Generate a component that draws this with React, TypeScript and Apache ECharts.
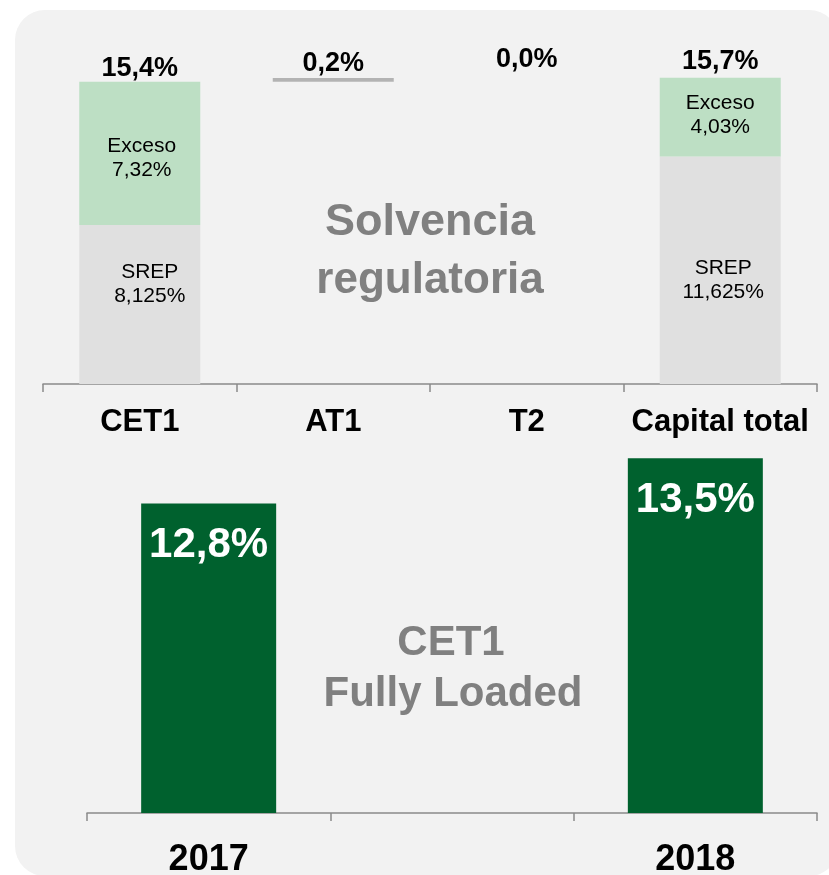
import React, { useEffect, useRef } from "react";
import * as echarts from "echarts";

// ---- Data: Solvencia regulatoria (waterfall) ----
const capCategories = ["CET1", "AT1", "T2", "Capital total"];
const srepValues = [8.125, 0, 0, 11.625];
const excesoValues = [7.32, 0, 0, 4.03];
const stepValues = [0, 0.2, 0, 0]; // AT1, T2 increments

// ---- Data: CET1 Fully Loaded ----
const yearCategories = ["2017", "", "2018"];
const cet1FlValues = [12.8, null, 13.5];

const FONT = "'Liberation Sans', Arial, Helvetica, sans-serif";

const fmt = (v: number, d?: number) =>
  (d === undefined ? String(v) : v.toFixed(d)).replace(".", ",") + "%";

export default function App() {
  const ref = useRef<HTMLDivElement>(null);

  useEffect(() => {
    if (!ref.current) return;
    const chart = echarts.init(ref.current, undefined, { renderer: "svg" });

    // waterfall helpers derived from the data
    const cet1Total = srepValues[0] + excesoValues[0];
    const base: number[] = [0, cet1Total, cet1Total + stepValues[1], 0];
    const totalsText = [
      fmt(srepValues[0] + excesoValues[0], 1),
      fmt(stepValues[1], 1),
      fmt(stepValues[2], 1),
      fmt(srepValues[3] + excesoValues[3], 1),
    ];
    const totalDist = [1, 2, 6, 4];
    const srepOffsets = [[10, -22], [0, 0], [0, 0], [3, 8]];
    const excesoOffsets = [[2, 3], [0, 0], [0, 0], [0, -4]];

    const option: any = {
      animation: false,
      backgroundColor: "transparent",
      textStyle: { fontFamily: FONT },
      graphic: [
        {
          type: "rect",
          z: -10,
          silent: true,
          shape: { x: 15, y: 10, width: 824, height: 866, r: 30 },
          style: { fill: "#f2f2f2" },
        },
        {
          type: "text",
          x: 430,
          y: 219,
          style: {
            text: "Solvencia",
            fill: "#808080",
            font: `bold 45px ${FONT}`,
            align: "center",
            verticalAlign: "middle",
          },
        },
        {
          type: "text",
          x: 430,
          y: 277,
          style: {
            text: "regulatoria",
            fill: "#808080",
            font: `bold 44px ${FONT}`,
            align: "center",
            verticalAlign: "middle",
          },
        },
        {
          type: "text",
          x: 451,
          y: 640,
          style: {
            text: "CET1",
            fill: "#808080",
            font: `bold 42px ${FONT}`,
            align: "center",
            verticalAlign: "middle",
          },
        },
        {
          type: "text",
          x: 453,
          y: 691,
          style: {
            text: "Fully Loaded",
            fill: "#808080",
            font: `bold 42px ${FONT}`,
            align: "center",
            verticalAlign: "middle",
          },
        },
      ],
      grid: [
        { left: 43, right: 12, top: 71, height: 313 },
        { left: 87, right: 12, top: 426, height: 391 },
      ],
      xAxis: [
        {
          gridIndex: 0,
          type: "category",
          data: capCategories,
          axisLine: { lineStyle: { color: "#8a8a8a", width: 1.5 } },
          axisTick: { show: true, length: 8, lineStyle: { color: "#8a8a8a", width: 1.5 } },
          axisLabel: {
            interval: 0,
            margin: 21,
            color: "#000",
            fontWeight: "bold",
            fontSize: 31,
            fontFamily: FONT,
          },
        },
        {
          gridIndex: 1,
          type: "category",
          data: yearCategories,
          axisLine: { lineStyle: { color: "#8a8a8a", width: 1.5 } },
          axisTick: { show: true, length: 8, lineStyle: { color: "#8a8a8a", width: 1.5 } },
          axisLabel: {
            interval: 0,
            margin: 26,
            color: "#000",
            fontWeight: "bold",
            fontSize: 36,
            fontFamily: FONT,
          },
        },
      ],
      yAxis: [
        { gridIndex: 0, type: "value", min: 0, max: 16, show: false, splitLine: { show: false } },
        { gridIndex: 1, type: "value", min: 8, max: 14, show: false, splitLine: { show: false } },
      ],
      series: [
        {
          name: "base",
          type: "bar",
          stack: "w",
          xAxisIndex: 0,
          yAxisIndex: 0,
          barWidth: 121,
          itemStyle: { color: "transparent" },
          silent: true,
          data: base,
        },
        {
          name: "SREP",
          type: "bar",
          stack: "w",
          xAxisIndex: 0,
          yAxisIndex: 0,
          barWidth: 121,
          itemStyle: { color: "#e0e0e0" },
          data: srepValues.map((v, i) => ({
            value: v,
            label: {
              show: v > 0,
              position: "inside",
              offset: srepOffsets[i],
              formatter: () => "SREP\n" + fmt(v),
              color: "#000",
              fontSize: 21,
              lineHeight: 24,
              fontFamily: FONT,
            },
          })),
        },
        {
          name: "Exceso",
          type: "bar",
          stack: "w",
          xAxisIndex: 0,
          yAxisIndex: 0,
          barWidth: 121,
          itemStyle: { color: "#bddfc4" },
          data: excesoValues.map((v, i) => ({
            value: v,
            label: {
              show: v > 0,
              position: "inside",
              offset: excesoOffsets[i],
              formatter: () => "Exceso\n" + fmt(v),
              color: "#000",
              fontSize: 21,
              lineHeight: 24,
              fontFamily: FONT,
            },
          })),
        },
        {
          name: "step",
          type: "bar",
          stack: "w",
          xAxisIndex: 0,
          yAxisIndex: 0,
          barWidth: 121,
          itemStyle: { color: "#b3b3b3" },
          data: stepValues,
        },
        {
          name: "totals",
          type: "bar",
          stack: "w",
          xAxisIndex: 0,
          yAxisIndex: 0,
          barWidth: 121,
          itemStyle: { color: "transparent" },
          data: capCategories.map((_, i) => ({
            value: 0,
            label: {
              show: true,
              position: "top",
              distance: totalDist[i],
              formatter: () => totalsText[i],
              color: "#000",
              fontWeight: "bold",
              fontSize: 27,
              fontFamily: FONT,
            },
          })),
        },
        {
          name: "CET1 Fully Loaded",
          type: "bar",
          xAxisIndex: 1,
          yAxisIndex: 1,
          barWidth: 135,
          itemStyle: { color: "#00612e" },
          label: {
            show: true,
            position: "insideTop",
            distance: 18,
            formatter: (p: any) => fmt(p.value, 1),
            color: "#fff",
            fontWeight: "bold",
            fontSize: 42,
            fontFamily: FONT,
          },
          data: cet1FlValues,
        },
      ],
    };

    chart.setOption(option);
    return () => chart.dispose();
  }, []);

  return (
    <div
      ref={ref}
      style={{ position: "fixed", left: 0, top: 0, width: 829, height: 875 }}
    />
  );
}
